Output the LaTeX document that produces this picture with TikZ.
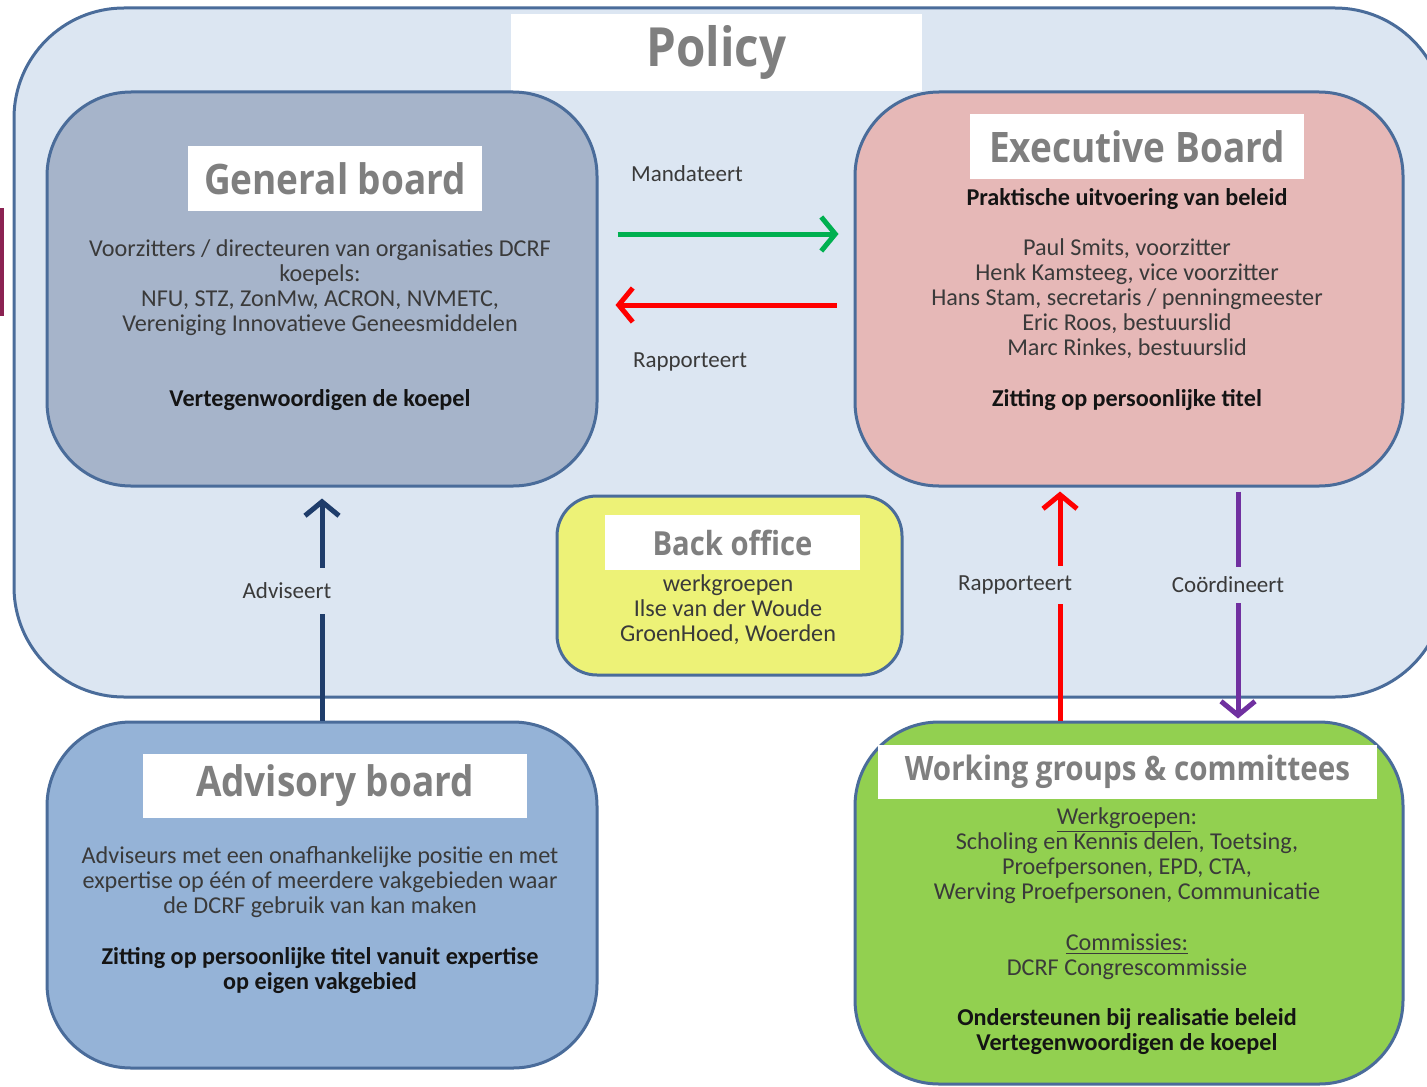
\documentclass[tikz,border=0pt]{standalone}
\usepackage{fontspec}
\setmainfont{Carlito}
\newfontfamily\titlefont[FakeStretch=0.88]{Open Sans}
\usetikzlibrary{positioning,arrows.meta}

\definecolor{policyfill}{HTML}{DCE6F2}
\definecolor{boxline}{HTML}{4A6C9A}
\definecolor{gbfill}{HTML}{A6B4CA}
\definecolor{ebfill}{HTML}{E6B8B7}
\definecolor{bofill}{HTML}{EDF277}
\definecolor{abfill}{HTML}{95B3D7}
\definecolor{wgfill}{HTML}{92D050}
\definecolor{titlegrey}{HTML}{7F7F7F}
\definecolor{bodytext}{HTML}{3A3A3A}
\definecolor{boldtext}{HTML}{141414}
\definecolor{mandgreen}{HTML}{00B050}
\definecolor{rapred}{HTML}{FF0000}
\definecolor{coorpurple}{HTML}{7030A0}
\definecolor{advnavy}{HTML}{1F3D6B}
\definecolor{marker}{HTML}{8B2252}

\tikzset{
	board/.style={draw=boxline,line width=1.5pt,rounded corners=42pt},
	boxtitle/.style={fill=white,text=titlegrey,inner sep=0pt,font=\titlefont\bfseries\fontsize{21}{21}\selectfont},
	body/.style={align=center,text=bodytext,font=\fontsize{12.1}{12.5}\selectfont},
	flow/.style={->,line width=2.5pt},
	flowlabel/.style={text=bodytext,font=\fontsize{11.5}{12.5}\selectfont},
}

\begin{document}
\begin{tikzpicture}[x=0.5pt,y=-0.5pt,>={Straight Barb[length=7pt,width=17pt]}]
	\useasboundingbox (0,0) rectangle (1427,1086);
	\clip (0,0) rectangle (1427,1086);

	\fill[white] (0,200) rectangle (15,318);
	\fill[marker] (0,208) rectangle (4,316);

	% outer frame
	\node[draw=boxline,line width=1.5pt,fill=policyfill,rounded corners=55pt,minimum width=715.5pt,minimum height=344.5pt] (policy) at (729.5,352.5) {};
	\node[boxtitle,minimum width=205.5pt,minimum height=38.5pt,font=\titlefont\bfseries\fontsize{27}{27}\selectfont] (policytitle) at (716.5,52.5) {Policy};

	% boards
	\node[board,fill=gbfill,minimum width=275pt,minimum height=197pt] (general) at (322,289) {};
	\node[board,fill=ebfill,minimum width=274pt,minimum height=197pt] (exec) at (1129,289) {};
	\node[board,fill=bofill,rounded corners=20pt,minimum width=172.5pt,minimum height=89.5pt] (backoffice) at (729.5,585.5) {};
	\node[board,fill=abfill,minimum width=275pt,minimum height=173pt] (advisory) at (322,895) {};
	\node[board,fill=wgfill,minimum width=274pt,minimum height=181pt] (wg) at (1129,903) {};

	\node[boxtitle,minimum width=147pt,minimum height=32.5pt] (gbtitle) at (335,178.5) {General board};
	\node[boxtitle,minimum width=167pt,minimum height=32.5pt] (ebtitle) at (1137,146.5) {Executive Board};
	\node[boxtitle,minimum width=127.5pt,minimum height=27.5pt,font=\titlefont\bfseries\fontsize{16.6}{17}\selectfont] (botitle) at (732.5,542.5) {Back office};
	\node[boxtitle,minimum width=192pt,minimum height=32pt] (abtitle) at (335,786) {Advisory board};
	\node[boxtitle,minimum width=249.5pt,minimum height=27pt,font=\titlefont\bfseries\fontsize{16.8}{17}\selectfont] (wgtitle) at (1127.5,772) {Working groups \& committees};

	\node[body] (gbtext) at (320,325.5) {Voorzitters / directeuren van organisaties DCRF\\koepels:\\NFU, STZ, ZonMw, ACRON, NVMETC,\\Vereniging Innovatieve Geneesmiddelen\\[25pt]\textcolor{boldtext}{\bfseries Vertegenwoordigen de koepel}};
	\node[body] (ebtext) at (1127,300) {\textcolor{boldtext}{\bfseries Praktische uitvoering van beleid}\\[12.5pt]Paul Smits, voorzitter\\Henk Kamsteeg, vice voorzitter\\Hans Stam, secretaris / penningmeester\\Eric Roos, bestuurslid\\Marc Rinkes, bestuurslid\\[13pt]\textcolor{boldtext}{\bfseries Zitting op persoonlijke titel}};
	\node[body] (botext) at (728,610) {werkgroepen\\Ilse van der Woude\\GroenHoed, Woerden};
	\node[body] (abtext) at (320,920) {Adviseurs met een onafhankelijke positie en met\\expertise op één of meerdere vakgebieden waar\\de DCRF gebruik van kan maken\\[13pt]\textcolor{boldtext}{\bfseries Zitting op persoonlijke titel vanuit expertise}\\\textcolor{boldtext}{\bfseries op eigen vakgebied}};
	\node[body] (wgtext) at (1127,931) {\underline{Werkgroepen}:\\Scholing en Kennis delen, Toetsing,\\Proefpersonen, EPD, CTA,\\Werving Proefpersonen, Communicatie\\[13pt]\underline{Commissies:}\\DCRF Congrescommissie\\[12.5pt]\textcolor{boldtext}{\bfseries Ondersteunen bij realisatie beleid}\\\textcolor{boldtext}{\bfseries Vertegenwoordigen de koepel}};

	% relations
	\draw[flow,mandgreen,shorten <=9.5pt,shorten >=7.5pt] ([yshift=27.5pt]general.east) -- ([yshift=27.5pt]exec.west);
	\draw[flow,rapred,shorten <=8.5pt,shorten >=8.5pt] ([yshift=-8pt]exec.west) -- ([yshift=-8pt]general.east);
	\node[flowlabel] (mandlabel) at (687,174) {Mandateert};
	\node[flowlabel] (raplabel) at (690,362) {Rapporteert};

	\draw[flow,advnavy,shorten >=5.5pt] (advisory.north) -- (general.south);
	\draw[flow,rapred,shorten >=2pt] ([xshift=-34.5pt]wg.north) -- ([xshift=-34.5pt]exec.south);
	\draw[flow,coorpurple,shorten <=2pt,shorten >=1pt] ([xshift=54.5pt]exec.south) -- ([xshift=54.5pt]wg.north);
	\node[flowlabel,fill=policyfill,inner xsep=1pt,inner ysep=7.5pt] (advlabel) at (287,591) {Adviseert};
	\node[flowlabel,fill=policyfill,inner xsep=1pt,inner ysep=5pt] (wgraplabel) at (1015,585) {Rapporteert};
	\node[flowlabel,fill=policyfill,inner xsep=1pt,inner ysep=5pt] (coorlabel) at (1228,585) {Coördineert};
\end{tikzpicture}
\end{document}
